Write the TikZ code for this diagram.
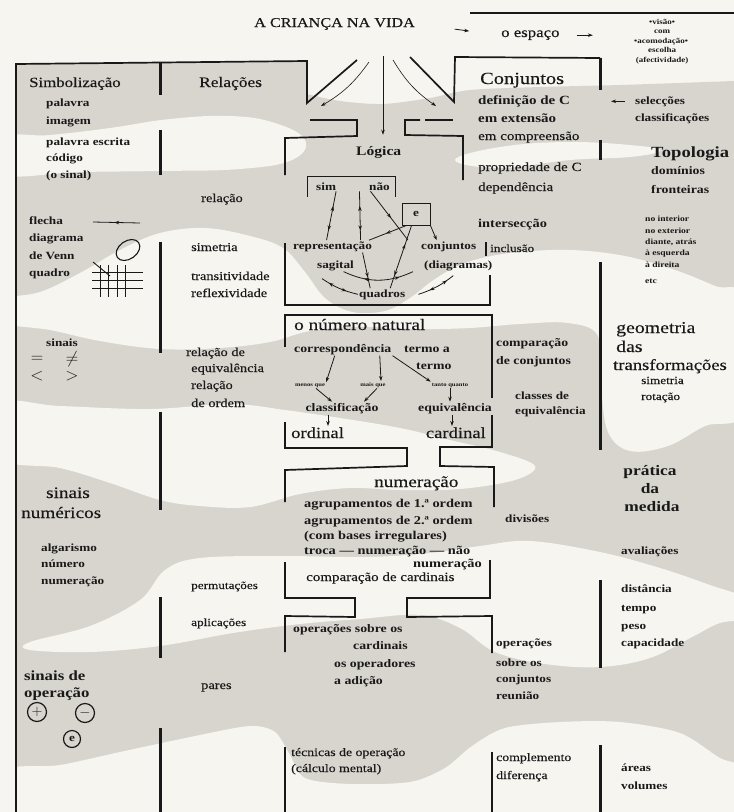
\documentclass[tikz,border=0pt]{standalone}
\usepackage{fontspec}
\setmainfont{Liberation Serif}[FakeStretch=1.2, UprightFeatures={FakeBold=0.3}]
\usetikzlibrary{arrows.meta,decorations.markings}
\definecolor{paper}{RGB}{247,245,240}
\definecolor{bandgrey}{RGB}{216,213,207}
\definecolor{ink}{RGB}{25,25,25}
\newcommand{\fsz}[1]{\fontsize{#1}{#1}\selectfont}
\tikzset{
  wall/.style={draw=ink, line width=1.7pt},
  divider/.style={draw=ink, line width=3pt},
  txtb/.style={anchor=base west, inner sep=1pt, text=ink, font=\fsz{#1}\bfseries},
  txtb/.default=11,
  txtr/.style={anchor=base west, inner sep=1pt, text=ink, font=\fsz{#1}},
  txtr/.default=12,
  txtc/.style={anchor=base, inner sep=1pt, text=ink, font=\fsz{#1}\bfseries},
  txtc/.default=11,
  relsign/.style={inner sep=0pt, text=ink, font=\fsz{18}},
  arr/.style={draw=ink, line width=0.8pt, -{Stealth[length=5pt,width=3.5pt]}},
  midarr/.style={draw=ink, line width=0.8pt, postaction={decorate},
    decoration={markings, mark=at position #1 with {\arrow{Stealth[length=5pt,width=3.5pt]}}}},
  midarr/.default=0.55,
  twoway/.style={draw=ink, line width=0.8pt, postaction={decorate},
    decoration={markings,
      mark=at position 0.3 with {\arrowreversed{Stealth[length=5pt,width=3.5pt]}},
      mark=at position 0.8 with {\arrow{Stealth[length=5pt,width=3.5pt]}}}},
  opsign/.style={circle, draw=ink, line width=1.2pt, minimum size=19pt, inner sep=0pt, text=ink},
}

\begin{document}
\begin{tikzpicture}[x=1pt, y=-1pt]
  \useasboundingbox (0,0) rectangle (734,812);
  \fill[paper] (0,0) rectangle (734,812);

  % grey bands of the page
  \fill[bandgrey] (16,64) -- (307,62) -- plot[smooth] coordinates {(307,94) (340,101) (383,104) (430,98) (470,90) (540,87) (620,85) (734,81)} -- (734,812) -- (16,812) -- cycle;
  \fill[paper] plot[smooth cycle, tension=0.7] coordinates {(0,138) (50,135) (110,128) (170,119) (230,116) (275,123) (305,140) (292,160) (240,169) (160,171) (80,172) (0,174)};
  \fill[paper] plot[smooth cycle, tension=0.7] coordinates {(455,160) (500,147) (570,142) (640,146) (660,151) (630,157) (570,160) (500,168)};
  \fill[paper] plot[smooth cycle, tension=0.6] coordinates {(0,300) (40,292) (80,273) (120,250) (160,233) (205,228) (250,236) (283,248) (305,272) (325,298) (352,312) (385,311) (410,298) (435,279) (465,263) (510,253) (570,250) (625,256) (675,270) (715,286) (745,300) (745,410) (705,426) (668,446) (630,451) (608,432) (601,385) (598,336) (568,323) (520,324) (470,328) (420,329) (360,327) (310,331) (270,342) (220,348) (160,349) (100,341) (50,330) (0,322)};
  \fill[paper] plot[smooth cycle, tension=0.6] coordinates {(0,404) (60,406) (150,409) (230,404) (285,410) (340,418) (400,428) (450,440) (500,452) (535,466) (515,480) (460,489) (400,490) (350,488) (300,494) (250,507) (200,506) (160,500) (110,483) (60,468) (0,458)};
  \fill[paper] plot[smooth cycle, tension=0.6] coordinates {(30,642) (90,626) (140,600) (165,570) (200,558) (280,556) (367,557) (430,553) (480,546) (530,541) (600,552) (660,568) (710,585) (750,600) (750,618) (720,623) (694,636) (650,658) (600,667) (545,664) (495,652) (460,628) (420,615) (360,619) (300,624) (233,633) (160,646) (90,652) (30,650)};
  \fill[paper] plot[smooth cycle, tension=0.5] coordinates {(0,772) (60,765) (120,752) (200,735) (250,726) (275,732) (290,755) (305,778) (350,784) (410,782) (445,768) (472,746) (505,728) (560,722) (620,722) (680,733) (720,758) (750,772) (750,830) (0,830)};

  % frame and column walls
  \draw[wall] (16,812) -- (16,64) -- (307,61) -- (307,103) -- (357,60);
  \draw[wall] (410,57) -- (454,102) -- (455,57) -- (600,58);
  \draw[wall] (470,13) -- (734,13);
  \draw[divider] (160,63) -- (160,95);
  \draw[divider] (160,130) -- (160,175);
  \draw[divider] (160,242) -- (160,353);
  \draw[divider] (160,412) -- (160,510);
  \draw[divider] (160,597) -- (160,658);
  \draw[divider] (160,728) -- (160,812);
  \draw[divider] (600,58) -- (600,90);
  \draw[divider] (600,140) -- (600,160);
  \draw[divider] (600,262) -- (600,450);
  \draw[divider] (600,580) -- (600,668);
  \draw[divider] (600,745) -- (600,812);

  % boxes of the middle column
  \draw[wall] (310,120) -- (357,120) -- (357,136) -- (285,138) -- (285,175);
  \draw[wall] (285,243) -- (285,305) -- (490,305) -- (490,275);
  \draw[wall] (420,120) -- (405,120) -- (405,135) -- (463,136) -- (463,180);
  \draw[wall] (425,120) -- (453,120);
  \draw[wall] (486,242) -- (486,256);
  \draw[wall] (285,347) -- (285,315) -- (492,315) -- (492,398);
  \draw[wall] (285,422) -- (285,448) -- (407,448) -- (407,466) -- (285,470) -- (285,502);
  \draw[wall] (492,415) -- (492,447) -- (440,447) -- (440,466) -- (494,467) -- (494,507);
  \draw[wall] (285,562) -- (285,598) -- (355,598) -- (355,617) -- (285,616) -- (285,652);
  \draw[wall] (490,560) -- (490,598) -- (407,598) -- (407,617) -- (492,616) -- (492,653);
  \draw[wall] (285,747) -- (285,812);
  \draw[wall] (492,752) -- (492,812);

  % title row
  \node[txtr=13.5] (title) at (253,27) {A CRIANÇA NA VIDA};
  \node[txtr=14] (espaco) at (500,37) {o espaço};
  \node[txtc=7.5] (visao) at (662,24) {•visão•};
  \node[txtc=7.5] (com) at (662,33) {com};
  \node[txtc=7.5] (acomod) at (661,43) {•acomodação•};
  \node[txtc=7.5] (escolha) at (662,52) {escolha};
  \node[txtc=7.5] (afect) at (662,62) {(afectividade)};
  \draw[arr, shorten <=39pt, shorten >=31pt] (title.east) -- (espaco.west);
  \draw[arr, shorten <=16pt, shorten >=40pt] (espaco.east) -- (espaco.east -| acomod.west);

  % Simbolizacao
  \node[txtr=14] (simb) at (28,87) {Simbolização};
  \node[txtb] (palavra) at (45,106) {palavra};
  \node[txtb] (imagem) at (45,124) {imagem};
  \node[txtb] (escrita) at (45,145) {palavra escrita};
  \node[txtb] (codigo) at (45,161) {código};
  \node[txtb] (osinal) at (45,178) {(o sinal)};
  \node[txtb] (flecha) at (28,224) {flecha};
  \node[txtb] (diagrama) at (28,241) {diagrama};
  \node[txtb] (venn) at (28,259) {de Venn};
  \node[txtb] (quadro) at (28,276) {quadro};
  \draw[midarr] (140,223) -- (93,222);
  \draw[ink, line width=1.1pt, rotate around={35:(128,250)}] (128,250) ellipse [x radius=13pt, y radius=9pt];
  \draw[ink, line width=0.9pt] (92,272) -- (143,272) (92,280) -- (143,280) (92,288) -- (143,288);
  \draw[ink, line width=0.9pt] (100,265) -- (100,297) (108,265) -- (108,297) (117,265) -- (117,297) (125,265) -- (125,297);
  \draw[ink, line width=0.9pt] (93,262) -- (110,276);
  \node[txtb] (sinais) at (45,346) {sinais};
  \node[relsign] (igual) at (37,359) {$=$};
  \node[relsign] (difer) at (72,359) {$\neq$};
  \node[relsign] (menor) at (37,376) {$<$};
  \node[relsign] (maior) at (72,376) {$>$};
  \node[txtr=16, anchor=base] (sinaisn) at (68,498) {sinais};
  \node[txtr=16] (numericos) at (20,518) {numéricos};
  \node[txtb] (algarismo) at (40,551) {algarismo};
  \node[txtb] (numero) at (40,567) {número};
  \node[txtb] (numeracao) at (40,584) {numeração};
  \node[txtb=14] (sinaisde) at (23,680) {sinais de};
  \node[txtb=14] (operacao) at (23,697) {operação};
  \node[opsign, font=\fsz{15}] (mais) at (37,712) {$+$};
  \node[opsign, font=\fsz{15}] (menos) at (85,713) {$-$};
  \node[opsign, minimum size=17pt, font=\fsz{11}\bfseries] (eop) at (72,739) {e};

  % Relacoes
  \node[txtr=14.5] (relacoes) at (198,87) {Relações};
  \node[txtr] (relacao) at (200,202) {relação};
  \node[txtr] (simetria) at (190,251) {simetria};
  \node[txtr] (transit) at (190,280) {transitividade};
  \node[txtr] (reflex) at (190,297) {reflexividade};
  \node[txtr] (releq) at (185,356) {relação de};
  \node[txtr] (equivalencia) at (190,372) {equivalência};
  \node[txtr] (relord) at (190,389) {relação};
  \node[txtr] (deordem) at (190,407) {de ordem};
  \node[txtr=11] (permut) at (190,589) {permutações};
  \node[txtr=11] (aplic) at (190,626) {aplicações};
  \node[txtr] (pares) at (200,689) {pares};

  % Logica
  \coordinate (fan) at (383,56);
  \coordinate (lin) at (321,106);
  \coordinate (rin) at (436,106);
  \node[txtb=13] (logica) at (355,155) {Lógica};
  \draw[arr, shorten >=10pt] (fan) -- (fan |- logica.north);
  \draw[arr, line width=0.6pt] ([xshift=-14pt,yshift=-6pt]fan) to[bend left=12] (lin);
  \draw[arr, line width=0.6pt] ([xshift=10pt,yshift=-4pt]fan) to[bend right=12] (rin);
  \draw[ink, line width=1pt] (307,197) -- (307,176);
  \draw[ink, line width=0.4pt] (307,176) -- (395,176);
  \draw[ink, line width=1pt] (395,176) -- (395,197);
  \node[txtb] (sim) at (315,190) {sim};
  \node[txtb] (nao) at (368,190) {não};
  \node[draw=ink, line width=0.8pt, minimum width=28pt, minimum height=22pt, inner sep=0pt, text=ink, font=\fsz{11}\bfseries] (ebox) at (416,214) {e};
  \node[txtb] (repr) at (292,249) {representação};
  \node[txtb] (sagital) at (316,268) {sagital};
  \node[txtb] (conj) at (420,249) {conjuntos};
  \node[txtb] (diag) at (423,268) {(diagramas)};
  \node[txtb] (quad) at (358,297) {quadros};
  \draw[twoway] ([xshift=10pt]sim.south) -- ([xshift=-6pt]repr.north);
  \draw[twoway] ([xshift=-20pt]nao.south) -- ([xshift=28pt]repr.north);
  \draw[midarr] ([xshift=-9pt]nao.south) -- ([xshift=-12pt]conj.north west);
  \draw[midarr] ([xshift=5pt]ebox.south west) -- ([xshift=-4pt]repr.north east);
  \draw[twoway] ([xshift=10pt]ebox.south west) -- ([xshift=8pt]quad.north);
  \draw[midarr=0.7] ([xshift=30pt]repr.south) -- ([xshift=-12pt]quad.north);
  \draw[arr] (ebox.south east) -- ([xshift=-12pt]conj.north);
  \draw[twoway] ([xshift=8pt]sagital.south) to[bend right=25] ([xshift=-10pt]diag.south west);
  \draw[twoway] (quad.west) to[bend left=10] ([xshift=6pt,yshift=-7pt]sagital.south west);
  \draw[twoway] ([xshift=12pt]quad.east) to[bend right=10] ([xshift=-5pt,yshift=-4pt]diag.south);

  % o numero natural
  \node[txtr=16] (natural) at (293,330) {o número natural};
  \node[txtb=11.5] (corr) at (293,352) {correspondência};
  \node[txtb=11.5] (termoa) at (403,352) {termo a};
  \node[txtb=11.5] (termo) at (415,369) {termo};
  \node[txtc=5.5] (menosq) at (310,386) {menos que};
  \node[txtc=5.5] (maisq) at (373,386) {mais que};
  \node[txtc=5.5] (tanto) at (450,386) {tanto quanto};
  \node[txtc=11.5] (classif) at (342,411) {classificação};
  \node[txtc=11.5] (equiv) at (455,411) {equivalência};
  \node[txtr=15.5] (ordinal) at (290,438) {ordinal};
  \node[txtr=15.5, anchor=base east] (cardinal) at (487,438) {cardinal};
  \draw[arr] ([xshift=-8pt]corr.south) -- (menosq.north east);
  \draw[arr] ([xshift=37pt]corr.south) -- ([xshift=8pt]maisq.north);
  \draw[arr] (corr.south east) -- (tanto.north west);
  \draw[arr] ([xshift=6pt]menosq.south) -- ([xshift=-10pt]classif.north);
  \draw[arr] ([xshift=4pt]maisq.south) -- ([xshift=22pt]classif.north);
  \draw[arr] (tanto.south) -- (tanto.south |- equiv.north);
  \draw[arr] ([xshift=-14pt]classif.south) -- ([xshift=-14pt]classif.south |- ordinal.north);
  \draw[arr] ([xshift=-3pt]equiv.south) -- ([xshift=-3pt]equiv.south |- cardinal.north);

  % numeracao
  \node[txtr=16] (numer) at (373,487) {numeração};
  \node[txtb=12] (agr1) at (303,507) {agrupamentos de 1.ª ordem};
  \node[txtb=12] (agr2) at (303,524) {agrupamentos de 2.ª ordem};
  \node[txtb=12] (bases) at (303,539) {(com bases irregulares)};
  \node[txtb=12] (troca) at (303,554) {troca — numeração — não};
  \node[txtb=12, anchor=base east] (numer2) at (483,567) {numeração};
  \node[txtr=12.5] (compcard) at (305,581) {comparação de cardinais};
  \node[txtb=11.5] (opcard1) at (292,632) {operações sobre os};
  \node[txtb=11.5] (opcard2) at (352,649) {cardinais};
  \node[txtb=11.5] (opcard3) at (333,667) {os operadores};
  \node[txtb=11.5] (opcard4) at (333,684) {a adição};
  \node[txtr=11.5] (tecn1) at (290,756) {técnicas de operação};
  \node[txtr=11.5] (tecn2) at (290,772) {(cálculo mental)};

  % Conjuntos
  \node[txtr=17] (conjuntos) at (479,84) {Conjuntos};
  \node[txtb=12.5] (defc) at (477,104) {definição de C};
  \node[txtb=12.5] (extensao) at (477,122) {em extensão};
  \node[txtr=12.5] (compreensao) at (477,140) {em compreensão};
  \node[txtr=12.5] (propc) at (477,171) {propriedade de C};
  \node[txtr=12.5] (dependencia) at (477,191) {dependência};
  \node[txtb=12] (interseccao) at (477,227) {intersecção};
  \node[txtr=11] (inclusao) at (489,252) {inclusão};
  \node[txtb=11.5] (comparacao) at (495,346) {comparação};
  \node[txtb=11.5] (deconj) at (495,364) {de conjuntos};
  \node[txtb] (classes) at (514,399) {classes de};
  \node[txtb] (classeseq) at (514,414) {equivalência};
  \node[txtb] (divisoes) at (504,522) {divisões};
  \node[txtb] (opconj1) at (495,646) {operações};
  \node[txtb] (opconj2) at (495,666) {sobre os};
  \node[txtb] (opconj3) at (495,682) {conjuntos};
  \node[txtb] (opconj4) at (495,699) {reunião};
  \node[txtr=11.5] (complemento) at (495,761) {complemento};
  \node[txtr=11.5] (diferenca) at (495,779) {diferença};

  % right column
  \coordinate (cwall) at (600,100);
  \node[txtb] (selec) at (634,104) {selecções};
  \node[txtb] (classific) at (634,121) {classificações};
  \draw[arr, shorten <=9pt, shorten >=11pt] (selec.west) -- (selec.west -| cwall);
  \node[txtb=15.5] (topologia) at (650,157) {Topologia};
  \node[txtb=11.5] (dominios) at (650,174) {domínios};
  \node[txtb=11.5] (fronteiras) at (650,193) {fronteiras};
  \node[txtb=8] (interior) at (644,221) {no interior};
  \node[txtb=8] (exterior) at (644,233) {no exterior};
  \node[txtb=8] (diante) at (644,244) {diante, atrás};
  \node[txtb=8] (esquerda) at (644,255) {à esquerda};
  \node[txtb=8] (direita) at (644,267) {à direita};
  \node[txtb=8] (etc) at (644,283) {etc};
  \node[txtr=16.5] (geometria) at (615,333) {geometria};
  \node[txtr=16.5] (das) at (615,352) {das};
  \node[txtr=15.5] (transf) at (612,370) {transformações};
  \node[txtr=11] (simetria2) at (640,384) {simetria};
  \node[txtr=11] (rotacao) at (640,400) {rotação};
  \node[txtb=14.5, anchor=base] (pratica) at (650,475) {prática};
  \node[txtb=14.5, anchor=base] (da) at (650,493) {da};
  \node[txtb=14.5, anchor=base] (medida) at (652,511) {medida};
  \node[txtb] (avaliacoes) at (620,554) {avaliações};
  \node[txtb] (distancia) at (620,592) {distância};
  \node[txtb] (tempo) at (620,611) {tempo};
  \node[txtb] (peso) at (620,629) {peso};
  \node[txtb] (capacidade) at (620,646) {capacidade};
  \node[txtb] (areas) at (620,771) {áreas};
  \node[txtb] (volumes) at (620,789) {volumes};
\end{tikzpicture}
\end{document}
